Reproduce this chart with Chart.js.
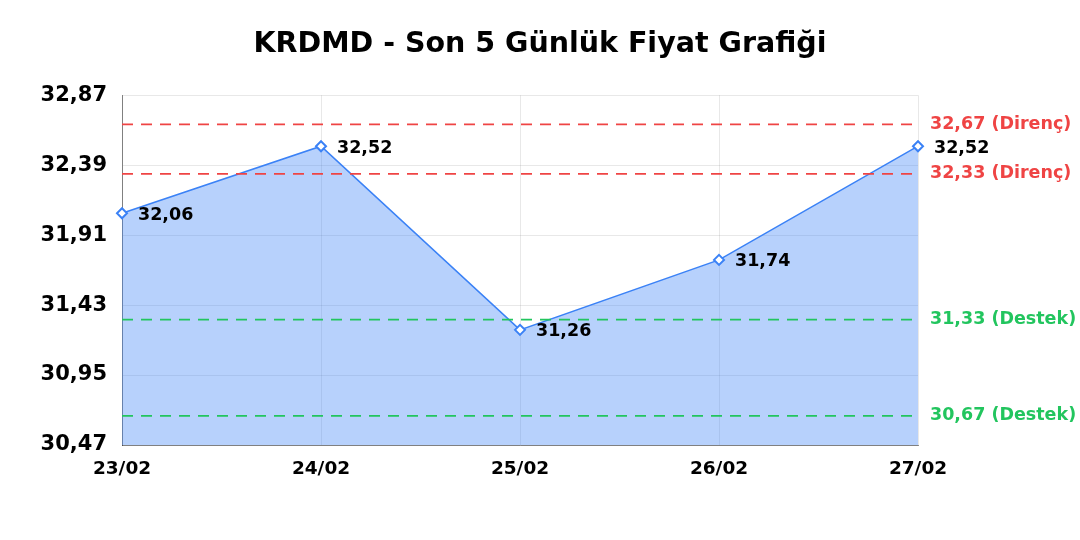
<!DOCTYPE html>
<html lang="tr">
<head>
    <meta charset="UTF-8">
    <title>KRDMD - Son 5 Günlük Fiyat Grafiği</title>
    <style>
        html, body { margin: 0; padding: 0; background: #fff; }
        .chart-box { width: 1080px; height: 540px; }
    </style>
</head>
<body>
    <div class="chart-box">
        <canvas id="priceChart"></canvas>
    </div>

    <script src="https://cdn.jsdelivr.net/npm/chart.js"></script>
    <script>
        // veriler
        const days = ['23/02', '24/02', '25/02', '26/02', '27/02'];
        const prices = [32.06, 32.52, 31.26, 31.74, 32.52];
        const resistanceLevels = [32.67, 32.33];
        const supportLevels = [31.33, 30.67];
        const yTicks = [30.47, 30.95, 31.43, 31.91, 32.39, 32.87];

        const FONT = "'DejaVu Sans', sans-serif";
        const RED = '#ef4444';
        const GREEN = '#22c55e';
        const fmt = v => v.toFixed(2).replace('.', ',');

        const levelDataset = (value, color) => ({
            data: days.map(() => value),
            borderColor: color,
            borderWidth: 1.8,
            borderDash: [11, 8],
            pointRadius: 0,
            fill: false,
            tension: 0,
            order: 0
        });

        // nokta etiketleri
        const pointLabels = {
            id: 'pointLabels',
            afterDatasetsDraw(chart) {
                const ctx = chart.ctx;
                const meta = chart.getDatasetMeta(0);
                ctx.save();
                ctx.font = `bold 17.5px ${FONT}`;
                ctx.fillStyle = '#000';
                ctx.textAlign = 'left';
                ctx.textBaseline = 'middle';
                meta.data.forEach((pt, i) => {
                    ctx.fillText(fmt(prices[i]), pt.x + 16, pt.y + 2);
                });
                ctx.restore();
            }
        };

        new Chart(document.getElementById('priceChart'), {
            type: 'line',
            data: {
                labels: days,
                datasets: [
                    {
                        data: prices,
                        borderColor: '#3b82f6',
                        borderWidth: 1.5,
                        backgroundColor: 'rgba(59,130,246,0.37)',
                        fill: 'start',
                        tension: 0,
                        pointStyle: 'rectRot',
                        pointRadius: 5,
                        pointBorderWidth: 2,
                        pointBackgroundColor: '#fff',
                        pointBorderColor: '#3b82f6',
                        order: 1
                    },
                    ...resistanceLevels.map(v => levelDataset(v, RED)),
                    ...supportLevels.map(v => levelDataset(v, GREEN))
                ]
            },
            options: {
                responsive: true,
                maintainAspectRatio: false,
                animation: false,
                layout: { padding: { left: 0, right: 0, top: 0, bottom: 50 } },
                plugins: {
                    legend: { display: false },
                    tooltip: { enabled: false },
                    title: {
                        display: true,
                        text: 'KRDMD - Son 5 Günlük Fiyat Grafiği',
                        color: '#000',
                        font: { family: FONT, size: 28.5, weight: 'bold' },
                        padding: { top: 27, bottom: 34 }
                    }
                },
                scales: {
                    x: {
                        offset: false,
                        grid: { color: 'rgba(0,0,0,0.09)', drawTicks: false },
                        border: { color: 'rgba(0,0,0,0.45)' },
                        ticks: {
                            color: '#000',
                            padding: 13,
                            maxRotation: 0,
                            font: { family: FONT, size: 18.5, weight: 'bold' }
                        },
                        afterFit: s => { s.height = 45; }
                    },
                    y: {
                        min: yTicks[0],
                        max: yTicks[yTicks.length - 1],
                        afterBuildTicks: s => { s.ticks = yTicks.map(v => ({ value: v })); },
                        grid: { color: 'rgba(0,0,0,0.09)', drawTicks: false },
                        border: { color: 'rgba(0,0,0,0.45)' },
                        ticks: {
                            color: '#000',
                            padding: 15,
                            font: { family: FONT, size: 21, weight: 'bold' },
                            callback: v => fmt(v)
                        },
                        afterFit: s => { s.width = 122; }
                    },
                    levels: {
                        position: 'right',
                        min: yTicks[0],
                        max: yTicks[yTicks.length - 1],
                        afterBuildTicks: s => {
                            s.ticks = [...resistanceLevels, ...supportLevels].map(v => ({ value: v }));
                        },
                        grid: { display: false, drawTicks: false },
                        border: { display: false },
                        ticks: {
                            padding: 12,
                            autoSkip: false,
                            font: { family: FONT, size: 17.5, weight: 'bold' },
                            color: c => resistanceLevels.includes(c.tick.value) ? RED : GREEN,
                            callback: v => fmt(v) + (resistanceLevels.includes(v) ? ' (Direnç)' : ' (Destek)')
                        },
                        afterFit: s => { s.width = 162; }
                    }
                }
            },
            plugins: [pointLabels]
        });
    </script>
</body>
</html>
